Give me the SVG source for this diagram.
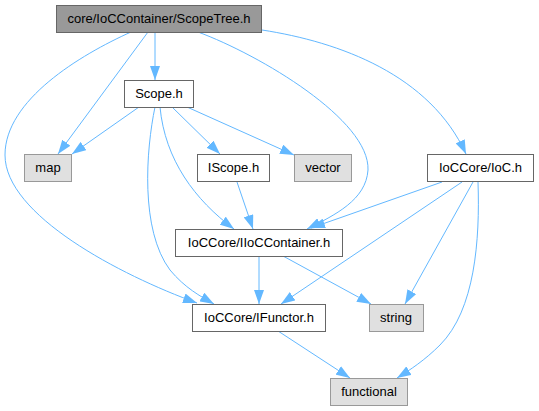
<svg xmlns="http://www.w3.org/2000/svg" width="539" height="411" viewBox="0 0 539 411">
<style>
  .n rect { fill: #ffffff; stroke: #666666; stroke-width: 1; }
  .sys rect { fill: #e0e0e0; stroke: #999999; stroke-width: 1; }
  .root rect { fill: #999999; stroke: #666666; stroke-width: 1; }
  text { font-family: "Liberation Sans", Arial, sans-serif; font-size: 13px; fill: #000000; text-anchor: middle; }
  .e path { fill: none; stroke: #63b8ff; stroke-width: 1; marker-end: url(#arr); }
</style>
<defs>
  <marker id="arr" viewBox="0 0 14 10" refX="14" refY="5" markerWidth="14" markerHeight="10" markerUnits="userSpaceOnUse" orient="auto">
    <path d="M0,0 L14,5 L0,10 Z" fill="#63b8ff" stroke="none"/>
  </marker>
</defs>
<g id="edges" class="e">
  <path d="M155,32 L155,80"/>
  <path d="M148,32 L58,154"/>
  <path d="M131,32 C80,55 5,100 5,155 C5,215 120,275 197,303"/>
  <path d="M198,32 C260,55 370,120 368,170 C366,200 335,215 307,229"/>
  <path d="M262,30 C340,42 430,75 466,154"/>
  <path d="M139,107 L72,154"/>
  <path d="M155,107 C146,150 140,230 170,270 C185,288 200,296 214,304"/>
  <path d="M160,107 C165,160 195,200 234,229"/>
  <path d="M172,107 L220,154"/>
  <path d="M187,107 L294,155"/>
  <path d="M237,182 L253,229"/>
  <path d="M442,182 L311,228"/>
  <path d="M462,182 L281,304"/>
  <path d="M473,182 L405,304"/>
  <path d="M478,182 C480,240 475,310 440,345 C425,360 410,370 397,378"/>
  <path d="M259,256 L259,304"/>
  <path d="M283,256 L371,304"/>
  <path d="M278,331 L350,378"/>
</g>
<g id="root" class="root"><rect x="56.5" y="5.5" width="205" height="27"/><text x="159" y="23">core/IoCContainer/ScopeTree.h</text></g>
<g id="scope" class="n"><rect x="124.5" y="80.5" width="69" height="27"/><text x="159" y="98">Scope.h</text></g>
<g id="map" class="sys"><rect x="24.5" y="154.5" width="47" height="27"/><text x="48" y="172">map</text></g>
<g id="iscope" class="n"><rect x="197.5" y="154.5" width="72" height="27"/><text x="233.5" y="172">IScope.h</text></g>
<g id="vector" class="sys"><rect x="294.5" y="154.5" width="57" height="27"/><text x="323" y="172">vector</text></g>
<g id="ioc" class="n"><rect x="427.5" y="154.5" width="106" height="27"/><text x="480.5" y="172">IoCCore/IoC.h</text></g>
<g id="iioccontainer" class="n"><rect x="175.5" y="229.5" width="167" height="27"/><text x="259" y="247">IoCCore/IIoCContainer.h</text></g>
<g id="ifunctor" class="n"><rect x="192.5" y="304.5" width="133" height="27"/><text x="259" y="322">IoCCore/IFunctor.h</text></g>
<g id="string" class="sys"><rect x="369.5" y="304.5" width="54" height="27"/><text x="396" y="322">string</text></g>
<g id="functional" class="sys"><rect x="330.5" y="378.5" width="77" height="27"/><text x="369" y="396">functional</text></g>
</svg>
